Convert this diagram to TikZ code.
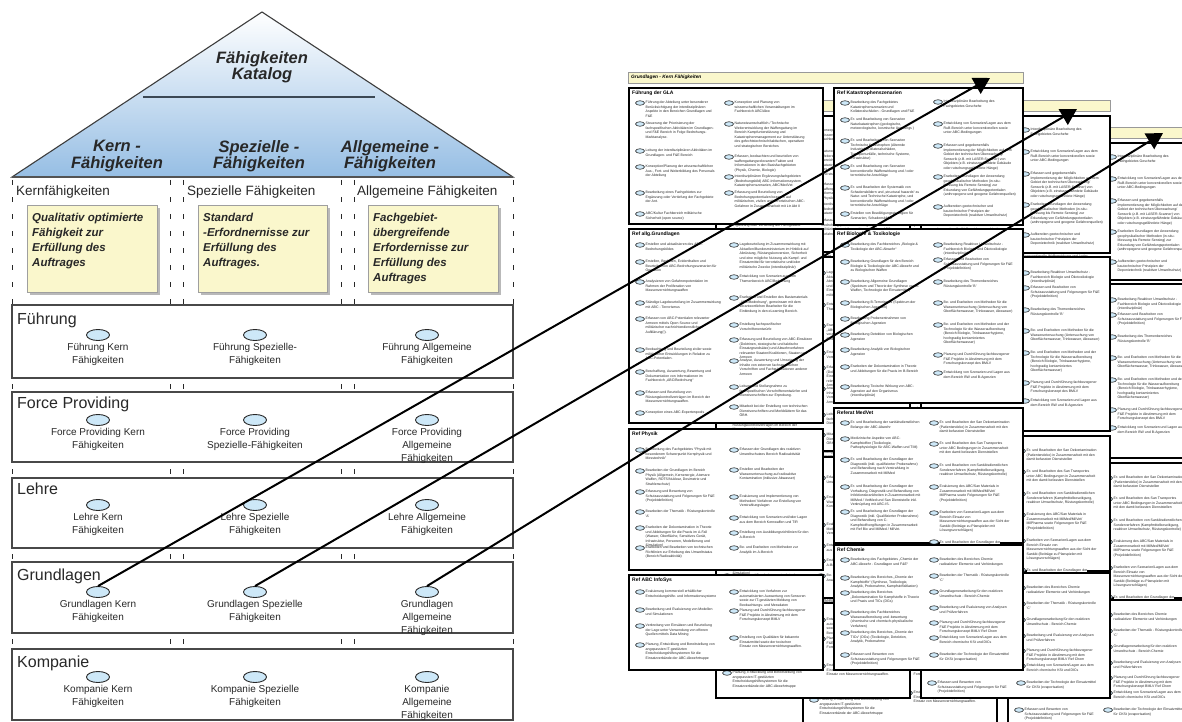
\documentclass[tikz,border=0pt]{standalone}
\usepackage{fontspec}
\setmainfont{Liberation Sans}
\usetikzlibrary{arrows.meta,shapes.geometric}

\definecolor{ink}{RGB}{40,40,40}
\definecolor{capblue}{RGB}{205,232,248}
\definecolor{capyellow}{RGB}{250,247,204}
\definecolor{roofblue}{RGB}{150,190,228}
\definecolor{slate}{RGB}{60,72,84}

\tikzset{
  bigdot/.style={ellipse, draw=ink, fill=capblue, line width=0.9pt,
    minimum width=23pt, minimum height=11pt, inner sep=0pt},
  dotlabel/.style={font=\fontsize{10}{13}\selectfont, align=center,
    inner sep=0pt, anchor=north, text=ink},
  rowbox/.style={draw=ink!85, fill=white, line width=1.2pt},
  rowtitle/.style={font=\fontsize{16}{18}\selectfont, anchor=base west, inner sep=0pt, text=ink},
  colhead/.style={font=\fontsize{13.5}{16}\selectfont, anchor=base west, inner sep=0pt, text=ink},
  goalbox/.style={draw=gray!75, fill=capyellow, line width=0.8pt},
  goalshadow/.style={fill=gray!55},
  goaltext/.style={font=\fontsize{11.5}{15}\selectfont\bfseries\itshape, align=left,
    anchor=north west, inner sep=0pt, text=ink},
  rooftext/.style={font=\fontsize{16.5}{16.7}\selectfont\bfseries\itshape, align=center,
    anchor=north, inner sep=0pt, text=ink},
  colsep/.style={draw=ink, line width=0.9pt, dash pattern=on 5pt off 12pt},
  link/.style={draw=black, line width=2pt, -{Triangle[length=16pt,width=18pt]}},
  pbox/.style={draw=black, fill=white, line width=1.1pt},
  pbar/.style={draw=gray!80, fill=capyellow, line width=0.8pt},
  ptitle/.style={font=\fontsize{5}{6}\selectfont\bfseries, anchor=west, inner sep=0pt},
  pbartitle/.style={font=\fontsize{4.8}{6}\selectfont\bfseries\itshape, anchor=west, inner sep=0pt},
  itdot/.style={ellipse, draw=ink, fill=capblue, line width=0.6pt,
    minimum width=9pt, minimum height=4.5pt, inner sep=0pt},
  ittext/.style={font=\fontsize{3.5}{4.5}\selectfont, align=left,
    anchor=north west, inner sep=0pt, text=ink},
}

% one entry of a catalogue sheet: marker plus its text
\newcounter{capit}
\newcommand\capit[3]{%
  \stepcounter{capit}\edef\capn{\arabic{capit}}%
  \node[itdot] (d\capn) at (#1,#2) {};
  \node[ittext] (t\capn) at (#1+5.5,#2-2) {#3};}
\newcommand\capitw[3]{%
  \stepcounter{capit}\edef\capn{\arabic{capit}}%
  \node[itdot] (d\capn) at (#1,#2) {};
  \node[ittext, fill=white, inner ysep=0.6pt] (t\capn) at (#1+5.5,#2-2) {#3};}

% one catalogue sheet "Grundlagen - Kern Fähigkeiten"
\newcommand\cappage{%
  \draw[pbar] (628,72) rectangle (1023,83);
  \node[pbartitle] (bar) at (631,77.5) {Grundlagen - Kern Fähigkeiten};
  % Führung der GLA
  \draw[pbox] (629,88) rectangle (823,224);
  \node[ptitle] (ta) at (632,93) {Führung der GLA};
  \capit{640}{103}{Führung der Abteilung unter besonderer\\Berücksichtigung der interdisziplinären\\Aspekte in den Bereichen Grundlagen und\\F\&E}
  \capit{640}{124}{Steuerung der Priorisierung der\\fachspezifischen Aktivitäten im Grundlagen-\\und F\&E Bereich in Folge Bedrohungs-\\Marktanalyse.}
  \capit{640}{151}{Leitung der interdisziplinären Aktivitäten im\\Grundlagen- und F\&E Bereich}
  \capit{640}{167}{Konzeption/Planung der wissenschaftlichen\\Aus-, Fort- und Weiterbildung des Personals\\der Abteilung}
  \capit{640}{193}{Bearbeitung eines Fachgebietes zur\\Ergänzung oder Vertiefung der Fachgebiete\\der Ant.}
  \capit{640}{214}{ABC/Kultur Fachbereich militärische\\Sicherheit (open source)}
  \capit{729}{103}{Konzeption und Planung von\\wissenschaftlichen Veranstaltungen im\\Fachbereich ABC/Abw}
  \capit{729}{124}{Naturwissenschaftlich / Technische\\Weiterentwicklung der Waffengattung im\\Bereich Kampfunterstützung und\\Katastrophenmanagement zur Unterstützung\\des gefechtstechnisch/taktischen, operativen\\und strategischen Bereiches}
  \capit{729}{157}{Erfassen, beobachten und beurteilen von\\waffengattungsrelevanten Fakten und\\Informationen in den Basisfachgebieten\\(Physik, Chemie, Biologie)}
  \capit{729}{177}{Interdisziplinären Ergänzungsfachgebieten\\(Bedrohungsbild) ABC-Informationssystem,\\Katastrophenszenarien, ABC/MedVet}
  \capit{729}{193}{Erfassung und Beurteilung von\\Bedrohungspotentialen bezogen auf\\militärischen, zivilen und terroristischen ABC-\\Gefahren in Zusammenarbeit mit Ltr Abt II}
  % Ref Katastrophenszenarien
  \draw[pbox] (834,88) rectangle (1023,225);
  \node[ptitle] (tb) at (837,93) {Ref Katastrophenszenarien};
  \capit{845}{103}{Bearbeitung des Fachgebietes\\Katastrophenszenarien und\\Kollateralschäden - Grundlagen und F\&E}
  \capit{845}{120}{Er- und Bearbeitung von Szenarien\\Naturkatastrophen (geologische,\\meteorologische, kosmische Ursprungs )}
  \capit{845}{141}{Er- und Bearbeitung von Szenarien\\Technische Katastrophen (Alternde\\Industrie) (Kollateralschäden,\\Transportunfälle, technische Systeme,\\Infrastruktur)}
  \capit{845}{167}{Er- und Bearbeitung von Szenarien\\konventionelle Waffenwirkung und / oder\\terroristische Anschläge}
  \capit{845}{188}{Er- und Bearbeiten der Systematik von\\Schadensbildern und „structural hazards“ zu\\Natur- und Technische Katastrophe, und\\konventionelle Waffenwirkung und / oder\\terroristische Anschläge}
  \capit{845}{214}{Erstellen von Bewältigungsstrategien für\\Szenarien, Schadensbilder}
  \capit{938}{102}{Interdisziplinäre Bearbeitung des\\Fachgebietes Geschehe}
  \capit{938}{124}{Entwicklung von Szenarien/Lagen aus dem\\RuB-Bereich unter konventionellen sowie\\unter ABC-Bedingungen}
  \capit{938}{146}{Erfassen und gegebenenfalls\\Implementierung der Möglichkeiten auf dem\\Gebiet der technischen Überwachung/\\Sensorik (z.B. mit LASER-Scanner) von\\Objekten (z.B. einsturzgefährdete Gebäude\\oder rutschungsgefährdete Hänge)}
  \capit{938}{177}{Erarbeiten Grundlagen der Anwendung\\geophysikalischer Methoden (in-situ-\\Messung bis Remote Sensing) zur\\Erkundung von Gefährdungspotentialen\\(anthropogene und geogene Gefahrenquellen)}
  \capit{938}{207}{Aufbereiten geotechnischer und\\bautechnischer Prinzipien der\\Deponietechnik (reaktiver Umweltschutz)}
  % Ref allg.Grundlagen
  \draw[pbox] (629,229) rectangle (823,423);
  \node[ptitle] (tc) at (632,234) {Ref allg.Grundlagen};
  \capit{640}{245}{Erstellen und aktualisieren des ABC-\\Bedrohungsbildes}
  \capit{640}{262}{Erstellen, Begleiten, Evidenthalten und\\Beurteilen von ABC-Bedrohungsszenarien für\\Operation}
  \capit{640}{282}{Analysieren von Gefahrenpotentialen im\\Rahmen der Proliferation von\\Massenvernichtungswaffen}
  \capit{640}{303}{Ständige Lagebeurteilung im Zusammenwirkung\\mit ABC - Terrorismus}
  \capit{640}{319}{Erfassen von ABC-Potentialen relevanter\\Armeen mittels Open Source und\\militärischer nachrichtendienstlicher\\Aufklärung(!).}
  \capit{640}{350}{Beobachtung und Beurteilung ziviler sowie\\militärischer Entwicklungen in Relation zu\\ABC-Potentialen.}
  \capit{640}{372}{Beschaffung, Auswertung, Bewertung und\\Dokumentation von Informationen im\\Fachbereich „ABC/Bedrohung“}
  \capit{640}{393}{Erfassen und Beurteilung von\\Rüstungskontrollverträgen im Bereich der\\Massenvernichtungswaffen.}
  \capit{640}{413}{Konzeption eines ABC-Expertenpools}
  \capit{734}{245}{Lagebeurteilung im Zusammenwirkung mit\\Aktuellen/Bundesministerium im Hinblick auf\\Abrüstung, Rüstungskonversion, Sicherheit\\und eine mögliche Nutzung als Kampf- und\\Einsatzmittel für terroristische und/oder\\militärische Zwecke (interdisziplinär)}
  \capit{734}{277}{Entwicklung von Szenarien aus dem\\Themenbereich ABC/Bedrohung}
  \capit{734}{298}{Erarbeiten und Erstellen des Basismaterials\\„ABC/Bedrohung“, gemeinsam mit dem\\verantwortlichen Bearbeiter für die\\Einbindung in den eLearning Bereich.}
  \capit{734}{325}{Erstellung fachspezifischer\\Vorschriftenentwürfe}
  \capit{734}{340}{Erfassung und Beurteilung von ABC-Einsätzen\\(Doktrinen, strategische und taktische\\Einsatzgrundsätze) und Abwehrverfahren\\relevanter Staaten/Koalitionen, Staaten und\\Armeen}
  \capit{734}{361}{Analyse, Auswertung und Umsetzung der\\Inhalte von externen fachspezifischen\\Vorschriften und Fachpublikationen anderer\\Armeen}
  \capit{734}{387}{Leitung und Stellungnahme zu\\fachspezifischen Vorschriftenentwürfen und\\Dienstvorschriften zur Erprobung.}
  \capit{734}{407}{Mitarbeit bei der Erstellung von technischen\\Dienstvorschriften und Merkblättern für das\\ÖBH.}
  % Ref Biologie & Toxikologie
  \draw[pbox] (834,229) rectangle (1023,403);
  \node[ptitle] (td) at (837,234) {Ref Biologie \& Toxikologie};
  \capit{845}{245}{Bearbeitung des Fachbereiches „Biologie \&\\Toxikologie der ABC-Abwehr“}
  \capit{845}{262}{Bearbeitung Grundlagen für den Bereich\\Biologie \& Toxikologie der ABC-Abwehr und\\zu Biologischen Waffen}
  \capit{845}{282}{Bearbeitung Allgemeine Grundlagen\\(Spektrum und Theorie der Synthese von B-\\Waffen, Technologie der Einsatzmittel)}
  \capit{845}{303}{Bearbeitung B-Terrorismus (Spektrum der\\Biologischen Agenzien)}
  \capit{845}{319}{Bearbeitung Probenentnahmen von\\Biologischen Agenzien}
  \capit{845}{335}{Bearbeitung Detektion von Biologischen\\Agenzien}
  \capit{845}{350}{Bearbeitung Analytik von Biologischen\\Agenzien}
  \capit{845}{367}{Erarbeiten der Dekontamination in Theorie\\und Ableitungen für die Praxis im B-Bereich}
  \capit{845}{387}{Bearbeitung Toxische Wirkung von ABC-\\Agenzien auf den Organismus\\(interdisziplinär)}
  \capit{938}{245}{Bearbeitung Reaktiver Umweltschutz -\\Fachbereich Biologie und Ökotoxikologie\\(interdisziplinär)}
  \capit{938}{260}{Erfassen und Bearbeiten von\\Schutzausstattung und Folgerungen für F\&E\\(Projektdefinition)}
  \capit{938}{282}{Bearbeitung des Themenbereiches\\Rüstungskontrolle 'B'}
  \capit{938}{303}{Be- und Erarbeiten von Methoden für die\\Wasseruntersuchung (Untersuchung von\\Oberflächenwasser, Trinkwasser, Abwasser)}
  \capit{938}{325}{Be- und Erarbeiten von Methoden und der\\Technologie für die Wasseraufbereitung\\(Bereich Biologie, Trinkwasserhygiene,\\hochgradig kontaminiertes\\Oberflächenwasser)}
  \capit{938}{355}{Planung und Durchführung fachbezogener\\F\&E Projekte in Abstimmung mit dem\\Forschungskonzept des BMLV}
  \capit{938}{373}{Entwicklung von Szenarien und Lagen aus\\dem Bereich BW und B-Agenzien}
  % Referat MedVet
  \draw[pbox] (834,408) rectangle (1023,543);
  \node[ptitle] (te) at (837,413) {Referat MedVet};
  \capit{845}{423}{Er- und Bearbeitung der sanitätsdienstlichen\\Belange der ABC-Abwehr}
  \capit{845}{439}{Medizinische Aspekte von ABC-\\Kampfstoffen (Toxikologie,\\Pathophysiologie für ABC-Waffen und TIM)}
  \capit{845}{460}{Er- und Bearbeitung der Grundlagen der\\Diagnostik (inkl. qualifizierter Probenahme)\\und Behandlung nach Verstrahlung in\\Zusammenarbeit mit MilMed}
  \capit{845}{487}{Er- und Bearbeitung der Grundlagen der\\Vorhaltung, Diagnostik und Behandlung von\\Infektionskrankheiten in Zusammenarbeit mit\\MilMed / VetMed und San Dienststelle inkl.\\Verknüpfung mit ABC-IS.}
  \capit{845}{512}{Er- und Bearbeitung der Grundlagen der\\Diagnostik (inkl. Qualifizierter Probenahme)\\und Behandlung von C-\\Kampfstoffvergiftungen in Zusammenarbeit\\mit Ref Bio und MilMed / MilVet.}
  \capit{934}{423}{Er- und Bearbeiten der San Dekontamination\\(Patientendeko) in Zusammenarbeit mit den\\damit befassten Dienststellen}
  \capit{934}{444}{Er- und Bearbeiten des San Transportes\\unter ABC Bedingungen in Zusammenarbeit\\mit den damit befassten Dienststellen}
  \capit{934}{466}{Er- und Bearbeiten von Sanitätsdienstlichen\\Sonderverfahren (Kampfmittelbeseitigung,\\reaktiver Umweltschutz, Rüstungskontrolle)}
  \capit{934}{487}{Evaluierung des ABC/San Materials in\\Zusammenarbeit mit MilMed/MilVet/\\MilPharma sowie Folgerungen für F\&E\\(Projektdefinition)}
  \capit{934}{513}{Erarbeiten von Szenarien/Lagen aus dem\\Bereich Einsatz von\\Massenvernichtungswaffen aus der Sicht der\\Sanität (Beiträge zu Planspielen mit\\Lösungsvorschlägen)}
  \capitw{934}{542}{Er- und Bearbeiten der Grundlagen der}
  % Ref Physik
  \draw[pbox] (629,429) rectangle (823,570);
  \node[ptitle] (tf) at (632,434) {Ref Physik};
  \capit{640}{450}{Bearbeitung des Fachgebietes “Physik mit\\besonderem Schwerpunkt Kernphysik und\\Messtechnik”}
  \capit{640}{471}{Bearbeiten der Grundlagen im Bereich\\Physik (Allgemein, Kernenergie, Atomare\\Waffen, RDTS/Nuklear, Dosimetrie und\\Strahlenschutz)}
  \capit{640}{492}{Erfassung und Bewertung von\\Schutzausstattung und Folgerungen für F\&E\\(Projektdefinition)}
  \capit{640}{512}{Bearbeiten der Thematik - Rüstungskontrolle\\'A'}
  \capit{640}{528}{Erarbeiten der Dekontamination in Theorie\\und Ableitungen für die Praxis im A-Fall\\(Wasser, Oberfläche, Sensitives Gerät,\\Infrastruktur, Personen, Modellierung und\\Simulation)}
  \capit{640}{548}{Erarbeiten und Bearbeiten von technischen\\Richtlinien zur Erhebung des Umweltstatus\\(Bereich Radioaktivität)}
  \capit{734}{450}{Erfassen der Grundlagen des reaktiven\\Umweltschutzes Bereich Radioaktivität}
  \capit{734}{470}{Erstellen und Bearbeiten der\\Wasseruntersuchung auf radioaktive\\Kontamination (inklusive Abwasser)}
  \capit{734}{497}{Evaluierung und Implementierung von\\Methoden/ Verfahren zur Erstellung von\\Verstrahlungslagen}
  \capit{734}{518}{Entwicklung von Szenarien und/oder Lagen\\aus dem Bereich Kernwaffen und TIR}
  \capit{734}{533}{Erstellung von Ausbildungsrichtlinien für den\\A-Bereich}
  \capit{734}{548}{Be- und Erarbeiten von Methoden zur\\Analytik im A-Bereich}
  % Ref Chemie
  \draw[pbox] (834,545) rectangle (1023,670);
  \node[ptitle] (tg) at (837,550) {Ref Chemie};
  \capit{845}{560}{Bearbeitung des Fachgebietes „Chemie der\\ABC-Abwehr - Grundlagen und F\&E“}
  \capit{845}{578}{Bearbeitung des Bereiches „Chemie der\\Kampfstoffe“ (Synthese, Toxikologie,\\Analytik, Probenahme, Kampfstoffaltlasten)}
  \capit{845}{593}{Bearbeitung des Bereiches\\„Dekontamination für Kampfstoffe in Theorie\\und Praxis und TICs (DGs)}
  \capit{845}{613}{Bearbeitung des Fachbereiches\\Wasseraufbereitung und -bewertung\\(chemische und chemisch-physikalische\\Verfahren)}
  \capit{845}{633}{Bearbeitung des Bereiches „Chemie der\\TICs“ (DGs) (Toxikologie, Detektion,\\Analytik, Probenahme}
  \capit{845}{655}{Erfassen und Bewerten von\\Schutzausstattung und Folgerungen für F\&E\\(Projektdefinition)}
  \capit{934}{560}{Bearbeiten des Bereiches Chemie\\radioaktiver Elemente und Verbindungen}
  \capit{934}{576}{Bearbeiten der Thematik - Rüstungskontrolle\\'C'}
  \capit{934}{592}{Grundlagenerarbeitung für den reaktiven\\Umweltschutz - Bereich Chemie}
  \capit{934}{608}{Bearbeitung und Evaluierung von Analysen\\und Prüfverfahren}
  \capit{934}{623}{Planung und Durchführung fachbezogener\\F\&E Projekte in Abstimmung mit dem\\Forschungskonzept BMLV Ref Chem}
  \capit{934}{638}{Entwicklung von Szenarien/Lagen aus dem\\Bereich chemische KSt und DICs}
  \capit{934}{655}{Bearbeiten der Technologie der Einsatzmittel\\für CKSt (evaporisation)}
  % Ref ABC InfoSys
  \draw[pbox] (629,575) rectangle (823,670);
  \node[ptitle] (th) at (632,580) {Ref ABC InfoSys};
  \capit{640}{592}{Evaluierung kommerziell erhältlicher\\Entscheidungshilfe- und Informationssysteme}
  \capit{640}{610}{Bearbeitung und Evaluierung von Modellen\\und Simulationen}
  \capit{640}{626}{Verbreitung von Einsätzen und Beurteilung\\der Lage unter Verwendung von offenen\\Quellen mittels Data Mining}
  \capit{640}{645}{Planung, Entwicklung und Bereitstellung von\\angepassten IT-gestützten\\Entscheidungshilfesystemen für die\\Einsatzverbände der ABC-Abwehrtruppe}
  \capit{734}{592}{Entwicklung von Verfahren zur\\automatisierten Auswertung von Sensoren\\sowie zur IT-gestützten Meldung von\\Beobachtungs- und Messdaten}
  \capit{734}{611}{Planung und Durchführung fachbezogener\\F\&E Projekte in Abstimmung mit dem\\Forschungskonzept BMLV}
  \capit{734}{638}{Erstellung von Qualitäten für bekannte\\Einsatzmittel sowie der toxischen\\Einsatz von Massenvernichtungswaffen.}
}

\begin{document}
\begin{tikzpicture}[x=1pt,y=-1pt]
\useasboundingbox (0,0) rectangle (1182,722);
\clip (0,0) rectangle (1182,722);
\fill[white] (0,0) rectangle (1182,722);

% ---------- capability house ----------
% column separators
\foreach \cx in {12,170,183,341,354,513}
  \draw[colsep] (\cx,180) -- (\cx,722);

% roof
\shade[top color=white, bottom color=roofblue] (262,12) -- (513,177) -- (12,177) -- cycle;
\draw[draw=ink!90, line width=1.1pt, line join=miter] (262,12) -- (513,177) -- (12,177) -- cycle;
\draw[draw=ink!80, line width=1.8pt] (12,177) -- (513,177);
\draw[draw=slate, line width=2pt] (143,97) -- (375,97);
\node[rooftext] (katalog) at (262,51) {Fähigkeiten\\Katalog};
\node[rooftext] (rkern) at (117,140) {Kern -\\Fähigkeiten};
\node[rooftext] (rspez) at (259,140) {Spezielle -\\Fähigkeiten};
\node[rooftext] (rallg) at (390,140) {Allgemeine -\\Fähigkeiten};

% column headings
\node[colhead] (hkern) at (16,195) {Kernfähigkeiten};
\node[colhead] (hspez) at (187,195) {Spezielle Fähigkeiten};
\node[colhead] (hallg) at (357,195) {Allgemeine Fähigkeiten};

% goal statements
\fill[goalshadow] (29.5,207.5) rectangle (159.5,294.5);
\draw[goalbox] (27,205) rectangle (157,292);
\node[goaltext] (gkern) at (32,213) {Qualitativ optimierte\\Fähigkeit zur\\Erfüllung des\\Auftrages};
\fill[goalshadow] (200.5,207.5) rectangle (329.5,294.5);
\draw[goalbox] (198,205) rectangle (327,292);
\node[goaltext] (gspez) at (203,213) {Standard\\-Erfordnernisse zur\\Erfüllung des\\Auftrages.};
\fill[goalshadow] (370.5,207.5) rectangle (500.5,294.5);
\draw[goalbox] (368,205) rectangle (498,292);
\node[goaltext] (gallg) at (373,213) {Fachgebiet-\\übergreifende\\Erfordernisse zur\\Erfüllung des\\Auftrages};

% rows
\draw[rowbox] (12,305) rectangle (513,378);
\draw[rowbox] (12,392) rectangle (513,462);
\draw[rowbox] (12,478) rectangle (513,548);
\draw[rowbox] (12,562) rectangle (513,633);
\draw[rowbox] (12,649) rectangle (513,720);
\node[rowtitle] (rfue) at (17,324) {Führung};
\node[rowtitle] (rfp) at (17,408) {Force Providing};
\node[rowtitle] (rle) at (17,494) {Lehre};
\node[rowtitle] (rgr) at (17,580) {Grundlagen};
\node[rowtitle] (rko) at (17,667) {Kompanie};

% Führung
\node[bigdot] (fk) at (98,335) {};
\node[bigdot] (fs) at (255,335) {};
\node[bigdot] (fa) at (427,335) {};
\node[dotlabel] (fkl) at (98,343) {Führung Kern\\Fähigkeiten};
\node[dotlabel] (fsl) at (255,343) {Führung Spezielle-\\Fähigkeiten};
\node[dotlabel] (fal) at (427,343) {Führung Allgemeine\\Fähigkeiten};
% Force Providing
\node[bigdot] (pk) at (98,420) {};
\node[bigdot] (ps) at (255,420) {};
\node[bigdot] (pa) at (427,420) {};
\node[dotlabel] (pkl) at (98,428) {Force Providing Kern\\Fähigkeiten};
\node[dotlabel] (psl) at (255,428) {Force Providing\\Spezielle-Fähigkeiten};
\node[dotlabel] (pal) at (427,428) {Force Providing\\Allgemeine\\Fähigkeiten};
% Lehre
\node[bigdot] (lk) at (98,505) {};
\node[bigdot] (ls) at (255,505) {};
\node[bigdot] (la) at (427,505) {};
\node[dotlabel] (lkl) at (98,513) {Lehre Kern\\Fähigkeiten};
\node[dotlabel] (lsl) at (255,513) {Lehre Spezielle\\Fähigkeiten};
\node[dotlabel] (lal) at (427,513) {Lehre Allgemeine\\Fähigkeiten};
% Grundlagen
\node[bigdot] (gk) at (98,592) {};
\node[bigdot] (gs) at (255,592) {};
\node[bigdot] (ga) at (427,592) {};
\node[dotlabel] (gkl) at (98,600) {Grundlagen Kern\\Fähigkeiten};
\node[dotlabel] (gsl) at (255,600) {Grundlagen Spezielle\\Fähigkeiten};
\node[dotlabel] (gal) at (427,600) {Grundlagen\\Allgemeine\\Fähigkeiten};
% Kompanie
\node[bigdot] (kk) at (98,677) {};
\node[bigdot] (ks) at (255,677) {};
\node[bigdot] (ka) at (427,677) {};
\node[dotlabel] (kkl) at (98,685) {Kompanie Kern\\Fähigkeiten};
\node[dotlabel] (ksl) at (255,685) {Kompanie Spezielle\\Fähigkeiten};
\node[dotlabel] (kal) at (427,685) {Kompanie\\Allgemeine\\Fähigkeiten};

% ---------- stacked catalogue sheets ----------
\begin{scope}[shift={(174,55)}, name prefix=s3-]
  \cappage
\end{scope}
\begin{scope}[shift={(87,28)}, name prefix=s2-]
  \cappage
\end{scope}
\begin{scope}[name prefix=s1-]
  \cappage
\end{scope}

% ---------- links from the Grundlagen row to the sheets ----------
\coordinate (h1) at (990,78);
\coordinate (h2) at (1077,109);
\coordinate (h3) at (1163,133);
\draw[link] (gk.north) -- (h1);
\draw[link] (gs.north) -- (h2);
\draw[link] (ga.north) -- (h3);
\end{tikzpicture}
\end{document}
